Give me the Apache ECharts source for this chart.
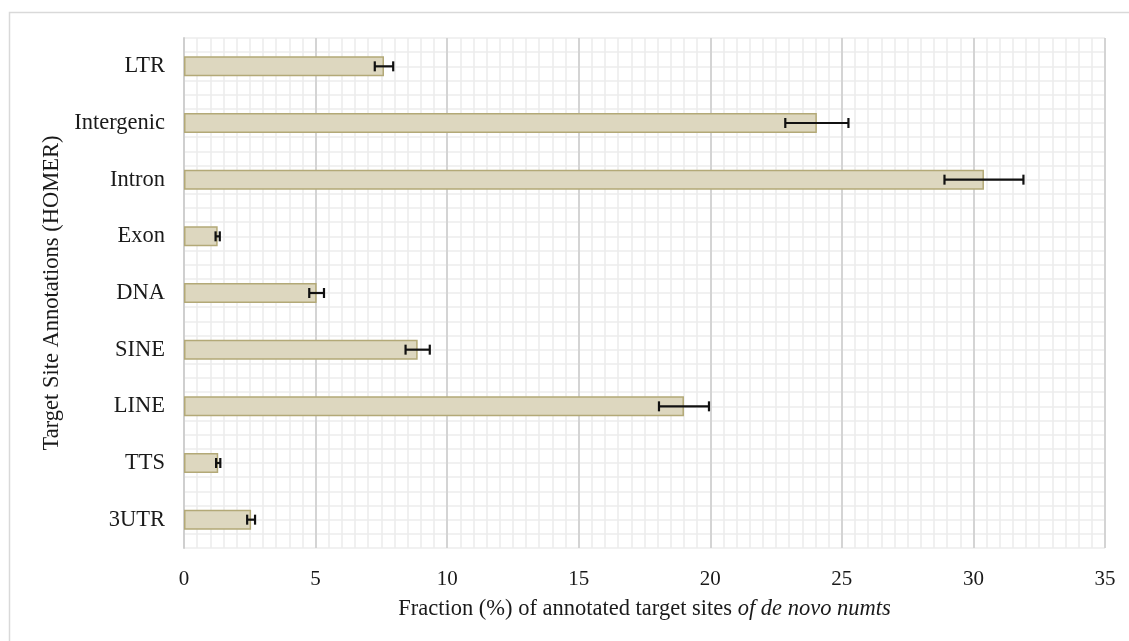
<!DOCTYPE html>
<html>
<head>
<meta charset="utf-8">
<script src="https://cdn.jsdelivr.net/npm/echarts@6/dist/echarts.min.js"></script>
<style>
  html, body { margin: 0; padding: 0; background: #ffffff; }
  #chart { width: 1129px; height: 641px; }
</style>
</head>
<body>
<div id="chart"></div>
<script>
// Annotation categories, listed top to bottom
const categories = ['LTR', 'Intergenic', 'Intron', 'Exon', 'DNA', 'SINE', 'LINE', 'TTS', '3UTR'];
// Mean fraction (%) of annotated target sites
const fractions = [7.6, 24.05, 30.4, 1.28, 5.04, 8.88, 19.0, 1.3, 2.55];
// Error (+/-) for each category
const errors = [0.35, 1.2, 1.5, 0.08, 0.28, 0.46, 0.95, 0.08, 0.15];
// Value-axis tick values
const xTicks = [0, 5, 10, 15, 20, 25, 30, 35];

const serif = '"Liberation Serif", "Times New Roman", serif';
const chart = echarts.init(document.getElementById('chart'), null, { renderer: 'canvas' });

const errorData = categories.map((c, i) => [i, fractions[i] - errors[i], fractions[i] + errors[i]]);

chart.setOption({
  backgroundColor: '#ffffff',
  animation: false,
  graphic: [{
    type: 'rect',
    shape: { x: 9.5, y: 12.5, width: 1140, height: 650 },
    style: { fill: 'none', stroke: '#d9d9d9', lineWidth: 1.5 },
    silent: true,
    z: -10
  }],
  grid: { left: 184, right: 24, top: 38, bottom: 93, containLabel: false },
  xAxis: {
    type: 'value',
    min: xTicks[0],
    max: xTicks[xTicks.length - 1],
    interval: 5,
    name: '{n|Fraction (%) of annotated target sites }{i|of de novo numts}',
    nameLocation: 'middle',
    nameGap: 50,
    nameTextStyle: {
      rich: {
        n: { fontFamily: serif, fontSize: 22.5, color: '#1a1a1a' },
        i: { fontFamily: serif, fontSize: 22.5, color: '#1a1a1a', fontStyle: 'italic' }
      }
    },
    axisLine: { show: false },
    axisTick: { show: false },
    axisLabel: { fontFamily: serif, fontSize: 21, color: '#1a1a1a', margin: 21 },
    splitLine: { show: true, lineStyle: { color: '#d4d4d4', width: 2 } },
    minorTick: { show: false, splitNumber: 10 },
    minorSplitLine: { show: true, lineStyle: { color: '#ececec', width: 1.5 } }
  },
  yAxis: [{
    type: 'category',
    data: categories,
    inverse: true,
    name: 'Target Site Annotations (HOMER)',
    nameLocation: 'middle',
    nameGap: 119,
    nameTextStyle: { fontFamily: serif, fontSize: 22.5, color: '#1a1a1a' },
    axisLine: { show: true, lineStyle: { color: '#cfcfcf', width: 2 } },
    axisTick: { show: false },
    axisLabel: { fontFamily: serif, fontSize: 22.5, color: '#1a1a1a', margin: 19 },
    splitLine: { show: false }
  }, {
    // Fine horizontal grid, four lines per category band
    type: 'value',
    min: 0,
    max: categories.length,
    interval: 0.25,
    position: 'left',
    axisLine: { show: false },
    axisTick: { show: false },
    axisLabel: { show: false },
    splitLine: { show: true, lineStyle: { color: '#ececec', width: 1.5 } }
  }],
  series: [{
    type: 'bar',
    yAxisIndex: 0,
    data: fractions,
    barWidth: 20,
    itemStyle: { color: '#ddd7bf', borderColor: '#b3a977', borderWidth: 1.5 },
    z: 2
  }, {
    type: 'custom',
    yAxisIndex: 0,
    data: errorData,
    encode: { y: 0, x: [1, 2] },
    z: 5,
    renderItem: function (params, api) {
      const cat = api.value(0);
      const lo = api.coord([api.value(1), cat]);
      const hi = api.coord([api.value(2), cat]);
      const h = 5;
      const st = { stroke: '#111', lineWidth: 2.2 };
      return {
        type: 'group',
        children: [
          { type: 'line', shape: { x1: lo[0], y1: lo[1], x2: hi[0], y2: hi[1] }, style: st },
          { type: 'line', shape: { x1: lo[0], y1: lo[1] - h, x2: lo[0], y2: lo[1] + h }, style: st },
          { type: 'line', shape: { x1: hi[0], y1: hi[1] - h, x2: hi[0], y2: hi[1] + h }, style: st }
        ]
      };
    }
  }]
});
</script>
</body>
</html>
